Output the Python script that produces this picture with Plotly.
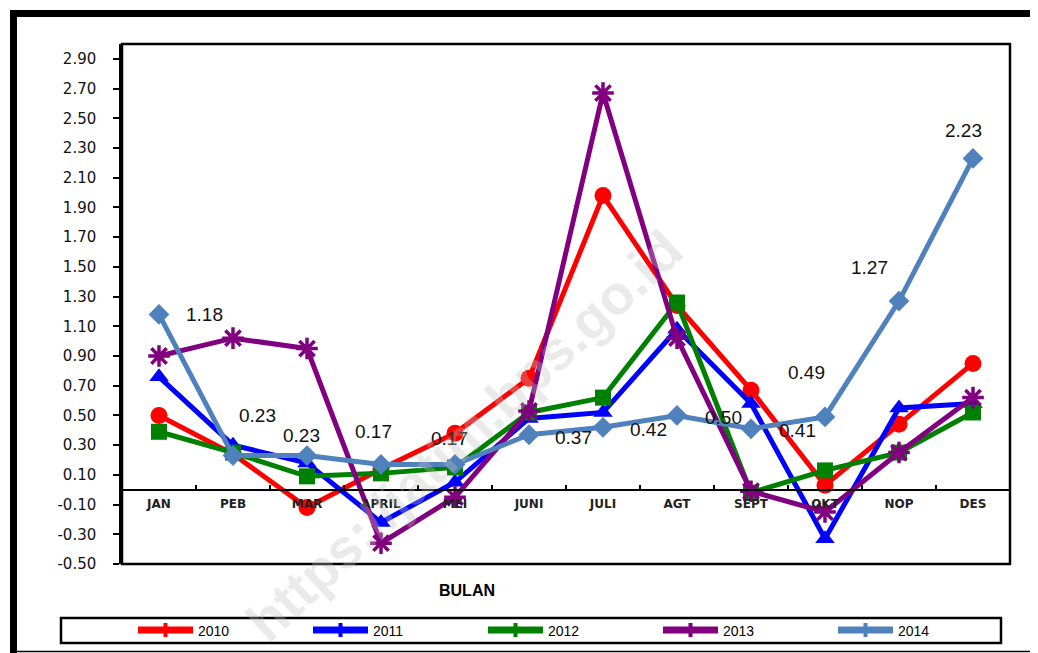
import plotly.graph_objects as go

# ---------------- data ----------------
months = ["JAN", "PEB", "MAR", "APRIL", "MEI", "JUNI", "JULI", "AGT", "SEPT", "OKT", "NOP", "DES"]
years = ["2010", "2011", "2012", "2013", "2014"]
v2010 = [0.50, 0.24, -0.12, 0.14, 0.38, 0.75, 1.98, 1.24, 0.67, 0.03, 0.44, 0.85]
v2011 = [0.76, 0.30, 0.18, -0.22, 0.05, 0.48, 0.52, 1.08, 0.58, -0.33, 0.55, 0.58]
v2012 = [0.39, 0.25, 0.09, 0.11, 0.15, 0.52, 0.62, 1.26, -0.02, 0.13, 0.25, 0.52]
v2013 = [0.90, 1.02, 0.95, -0.36, -0.05, 0.53, 2.67, 1.02, -0.01, -0.15, 0.25, 0.62]
v2014 = [1.18, 0.23, 0.23, 0.17, 0.17, 0.37, 0.42, 0.50, 0.41, 0.49, 1.27, 2.23]
ytick_vals = [-0.50, -0.30, -0.10, 0.10, 0.30, 0.50, 0.70, 0.90, 1.10, 1.30, 1.50,
              1.70, 1.90, 2.10, 2.30, 2.50, 2.70, 2.90]
ytick_labels = ["-0.50", "-0.30", "-0.10", "0.10", "0.30", "0.50", "0.70", "0.90", "1.10",
                "1.30", "1.50", "1.70", "1.90", "2.10", "2.30", "2.50", "2.70", "2.90"]
x_title = "BULAN"
watermark = "https://jatim.bps.go.id"

# ---------------- styling ----------------
series = [v2010, v2011, v2012, v2013, v2014]
colors = ["#FF0000", "#0000FF", "#008000", "#800080", "#4F81BD"]
symbols = ["circle", "triangle-up", "square", "asterisk-open", "diamond"]
msizes = [17, 17, 16, 18, 16]

# label offsets (px) for 2014 data labels, relative to each point
lab_dx = [45, 24, -6, -8, -6, 44, 45, 46, 46, -19, -30, -10]
lab_dy = [0, 40, 20, 33, 26, -3, -2, -2, -2, 44, 34, 28]

YMIN, YMAX = -0.5, 3.0
OFF = 8                      # page body margin
W, H = 1038 - OFF, 653 - OFF
ML, MR, MT, MB = 122 - OFF, 28, 44 - OFF, 89
PW, PH = W - ML - MR, H - MT - MB


def px2paper_x(px):          # screen px -> paper fraction
    return (px - OFF - ML) / PW


def px2paper_y(py):
    return (H - MB - (py - OFF)) / PH


fig = go.Figure()

for name, vals, c, s, ms in zip(years, series, colors, symbols, msizes):
    marker = dict(symbol=s, size=ms, color=c)
    if s.startswith("asterisk"):
        marker["line"] = dict(color=c, width=3.5)
    fig.add_trace(go.Scatter(
        x=months, y=vals, mode="lines+markers", name=name,
        line=dict(color=c, width=5), marker=marker, showlegend=False,
    ))

# legend-only entries (small marks like the original legend)
for name, c in zip(years, colors):
    fig.add_trace(go.Scatter(
        x=[None], y=[None], mode="lines+markers", name=name,
        line=dict(color=c, width=7), marker=dict(symbol="line-ns", size=10,
                                                  line=dict(color=c, width=4), color=c),
        showlegend=True,
    ))

# data labels for 2014
for m, v, dx, dy in zip(months, v2014, lab_dx, lab_dy):
    fig.add_annotation(x=m, y=v, text=f"{v:.2f}", showarrow=False,
                       xshift=dx, yshift=dy,
                       font=dict(family="Liberation Sans", size=19, color="#111111"))

# x-axis title
fig.add_annotation(x=px2paper_x(467), y=px2paper_y(590), xref="paper", yref="paper",
                   xanchor="center", yanchor="middle",
                   text=f"<b>{x_title}</b>", showarrow=False,
                   font=dict(family="Liberation Sans", size=16, color="#000000"))

# watermark
fig.add_annotation(x=px2paper_x(464), y=px2paper_y(436), xref="paper", yref="paper",
                   xanchor="center", yanchor="middle",
                   text=f"<b>{watermark}</b>", showarrow=False, textangle=-43,
                   font=dict(family="Liberation Sans", size=55, color="rgba(190,190,190,0.33)"))

shapes = []
# plot area box
shapes.append(dict(type="rect", xref="paper", yref="paper", x0=0, x1=1, y0=0, y1=1,
                   line=dict(color="black", width=2.5), layer="above"))
# legend box
shapes.append(dict(type="rect", xref="paper", yref="paper",
                   x0=px2paper_x(61), x1=px2paper_x(1001),
                   y0=px2paper_y(643), y1=px2paper_y(618),
                   line=dict(color="black", width=2.5)))
# outer frame
shapes.append(dict(type="line", xref="paper", yref="paper",
                   x0=px2paper_x(13.5), x1=px2paper_x(13.5), y0=px2paper_y(10), y1=px2paper_y(660),
                   line=dict(color="black", width=7)))
shapes.append(dict(type="line", xref="paper", yref="paper",
                   x0=px2paper_x(10), x1=px2paper_x(1037), y0=px2paper_y(13.5), y1=px2paper_y(13.5),
                   line=dict(color="black", width=7)))
shapes.append(dict(type="line", xref="paper", yref="paper",
                   x0=px2paper_x(1036), x1=px2paper_x(1036), y0=px2paper_y(13), y1=px2paper_y(652),
                   line=dict(color="black", width=1.5)))
shapes.append(dict(type="line", xref="paper", yref="paper",
                   x0=px2paper_x(13), x1=px2paper_x(1036), y0=px2paper_y(651.5), y1=px2paper_y(651.5),
                   line=dict(color="black", width=1.5)))

fig.update_layout(
    width=W, height=H,
    margin=dict(l=ML, r=MR, t=MT, b=MB, pad=0, autoexpand=False),
    paper_bgcolor="white", plot_bgcolor="white",
    shapes=shapes,
    showlegend=True,
    legend=dict(orientation="h", xref="container", yref="container",
                x=(133 - OFF) / W, y=(H - (630.5 - OFF)) / H,
                xanchor="left", yanchor="middle",
                entrywidth=105, entrywidthmode="pixels", itemwidth=55,
                font=dict(family="Liberation Sans", size=14, color="#000000"),
                bgcolor="rgba(0,0,0,0)", borderwidth=0, traceorder="normal"),
    xaxis=dict(
        type="category", categoryorder="array", categoryarray=months,
        range=[-0.5, len(months) - 0.5],
        anchor="free", position=(0 - YMIN) / (YMAX - YMIN),
        showline=True, linecolor="black", linewidth=1.5,
        ticks="inside", tickson="boundaries", ticklen=4, tickwidth=1.5, tickcolor="black",
        tickvals=months, ticktext=[f"<b>{m}</b>" for m in months],
        ticklabelstandoff=3,
        tickfont=dict(family="DejaVu Sans", size=12, color="#222222"),
        showgrid=False, zeroline=False, fixedrange=True,
    ),
    yaxis=dict(
        range=[YMIN, YMAX],
        tickvals=ytick_vals, ticktext=ytick_labels,
        ticks="outside", ticklen=6, tickwidth=2, tickcolor="black",
        ticklabelstandoff=14,
        showline=True, linecolor="black", linewidth=2.5,
        tickfont=dict(family="DejaVu Sans", size=15, color="#111111"),
        showgrid=False, zeroline=False, fixedrange=True,
    ),
)

fig.write_html("out.html")
